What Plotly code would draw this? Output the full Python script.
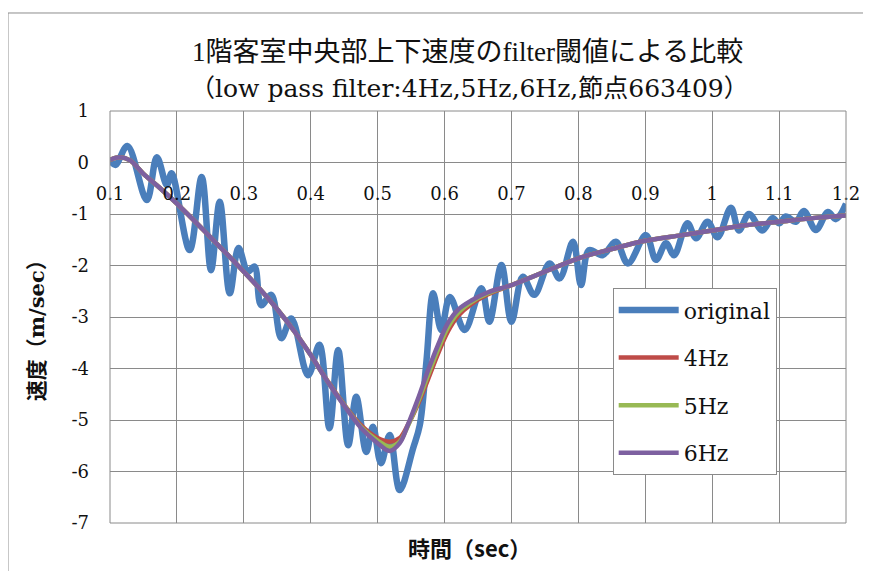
import plotly.graph_objects as go

# 時間 (sec) / 速度 (m/sec)
t_orig = [0.100, 0.108, 0.126, 0.155, 0.170, 0.185, 0.192, 0.219, 0.237, 0.251,
          0.264, 0.279, 0.292, 0.306, 0.316, 0.326, 0.341, 0.356, 0.371, 0.396,
          0.413, 0.428, 0.441, 0.456, 0.468, 0.483, 0.493, 0.505, 0.518, 0.533,
          0.553, 0.563, 0.573, 0.583, 0.595, 0.608, 0.630, 0.655, 0.667, 0.685,
          0.700, 0.717, 0.734, 0.757, 0.772, 0.792, 0.804, 0.816, 0.836, 0.856,
          0.874, 0.901, 0.916, 0.931, 0.943, 0.963, 0.976, 0.993, 1.008, 1.028,
          1.040, 1.055, 1.075, 1.090, 1.100, 1.110, 1.125, 1.137, 1.155, 1.173,
          1.185, 1.200]
v_orig = [0.05, -0.05, 0.32, -0.73, 0.10, -0.44, -0.21, -1.70, -0.28, -2.09,
          -0.76, -2.54, -1.66, -2.12, -2.02, -2.77, -2.57, -3.41, -3.03, -4.13,
          -3.54, -5.16, -3.64, -5.49, -4.55, -5.62, -5.13, -5.84, -5.29, -6.36,
          -5.55, -5.10, -3.85, -2.54, -3.25, -2.61, -3.25, -2.44, -3.09, -1.99,
          -3.09, -2.22, -2.57, -1.96, -2.25, -1.54, -2.38, -1.70, -1.80, -1.54,
          -1.96, -1.41, -1.89, -1.57, -1.80, -1.18, -1.47, -1.15, -1.45, -0.88,
          -1.32, -1.00, -1.32, -1.08, -1.18, -1.05, -1.15, -0.94, -1.31, -0.96,
          -1.10, -0.80]

t_filt = [0.100, 0.115, 0.130, 0.150, 0.175, 0.200, 0.225, 0.250, 0.275, 0.300,
          0.325, 0.350, 0.375, 0.400, 0.425, 0.450, 0.475, 0.500, 0.518, 0.533,
          0.545, 0.560, 0.575, 0.590, 0.605, 0.620, 0.640, 0.665, 0.700, 0.750,
          0.800, 0.850, 0.900, 0.950, 1.000, 1.050, 1.100, 1.150, 1.200]
v_4hz = [0.05, 0.10, 0.04, -0.22, -0.50, -0.80, -1.12, -1.45, -1.78, -2.12,
         -2.47, -2.85, -3.27, -3.74, -4.24, -4.70, -5.10, -5.35, -5.42, -5.35,
         -5.10, -4.70, -4.22, -3.72, -3.28, -2.98, -2.75, -2.56, -2.38, -2.12,
         -1.86, -1.68, -1.52, -1.42, -1.32, -1.22, -1.15, -1.08, -1.03]
v_5hz = [0.05, 0.10, 0.04, -0.22, -0.50, -0.80, -1.12, -1.45, -1.78, -2.12,
         -2.47, -2.85, -3.27, -3.74, -4.25, -4.71, -5.13, -5.40, -5.52, -5.42,
         -5.12, -4.66, -4.14, -3.64, -3.20, -2.92, -2.71, -2.54, -2.38, -2.12,
         -1.86, -1.68, -1.52, -1.42, -1.32, -1.22, -1.15, -1.08, -1.03]
v_6hz = [0.05, 0.10, 0.04, -0.22, -0.50, -0.80, -1.12, -1.45, -1.78, -2.12,
         -2.47, -2.85, -3.27, -3.74, -4.25, -4.72, -5.15, -5.45, -5.60, -5.45,
         -5.10, -4.60, -4.05, -3.55, -3.12, -2.86, -2.68, -2.52, -2.38, -2.12,
         -1.86, -1.68, -1.52, -1.42, -1.32, -1.22, -1.15, -1.08, -1.03]

x_ticks = [0.1, 0.2, 0.3, 0.4, 0.5, 0.6, 0.7, 0.8, 0.9, 1.0, 1.1, 1.2]
x_tick_text = ["0.1", "0.2", "0.3", "0.4", "0.5", "0.6", "0.7", "0.8", "0.9", "1", "1.1", "1.2"]
y_ticks = [-7, -6, -5, -4, -3, -2, -1, 0, 1]
y_tick_text = ["-7", "-6", "-5", "-4", "-3", "-2", "-1", "0", "1"]

series = [("original", t_orig, v_orig, "#4A7EBB", 6.5),
          ("4Hz", t_filt, v_4hz, "#BE4B48", 4.5),
          ("5Hz", t_filt, v_5hz, "#98B954", 4.5),
          ("6Hz", t_filt, v_6hz, "#7D60A0", 4.5)]

serif = "Liberation Serif, Noto Sans CJK JP, serif"
dserif = "DejaVu Serif, Noto Sans CJK JP, serif"

fig = go.Figure()
for name, t, v, col, w in series:
    fig.add_trace(go.Scatter(x=t, y=v, name=name, mode="lines", legendgroup=name,
                             line=dict(color=col, width=w, shape="spline")))

grid = "#8a8a8a"
# page body has an 8px margin, so the figure is 8px smaller than the window
fig.update_layout(
    width=863, height=563,
    margin=dict(l=102, r=25, t=103, b=48),
    paper_bgcolor="white", plot_bgcolor="white",
    font=dict(family=dserif, color="#111111"),
    xaxis=dict(range=[0.1, 1.2], tickvals=x_ticks, ticktext=x_tick_text,
               showgrid=True, gridcolor=grid, gridwidth=1, zeroline=False,
               showline=False, anchor="free", position=0.875, automargin=False,
               tickfont=dict(size=18, family=dserif), ticklabelstandoff=18),
    yaxis=dict(range=[-7, 1], tickvals=y_ticks, ticktext=y_tick_text,
               showgrid=True, gridcolor=grid, gridwidth=1, zeroline=False,
               showline=False, automargin=False,
               tickfont=dict(size=18, family=dserif), ticklabelstandoff=20),
    legend=dict(x=0.683, y=0.570, xanchor="left", yanchor="top",
                bgcolor="white", bordercolor=grid, borderwidth=1,
                font=dict(size=22, family=dserif), traceorder="grouped",
                tracegroupgap=16, itemwidth=60, entrywidth=120),
    shapes=[dict(type="rect", xref="paper", yref="paper", x0=0, x1=1, y0=0, y1=1,
                 line=dict(color=grid, width=1)),
            dict(type="rect", xref="paper", yref="paper", x0=-0.1386, x1=1.0272,
                 y0=-0.14, y1=1.2379, line=dict(color="#8c8c8c", width=1))],
    annotations=[
        dict(text="1階客室中央部上下速度のfilter閾値による比較", x=0.4864, y=1.1432,
             xref="paper", yref="paper", showarrow=False, yanchor="middle",
             font=dict(size=27, family=serif)),
        dict(text="（low pass filter:4Hz,5Hz,6Hz,節点663409）", x=0.4878, y=1.0558,
             xref="paper", yref="paper", showarrow=False, yanchor="middle",
             font=dict(size=25, family=dserif)),
        dict(text="<b>時間（sec）</b>", x=0.489, y=-0.0583, xref="paper", yref="paper",
             showarrow=False, yanchor="middle",
             font=dict(size=22, family="Noto Sans CJK JP, sans-serif")),
        dict(text="<b>速度（m/sec）</b>", x=-0.099, y=0.4806, xref="paper", yref="paper",
             showarrow=False, textangle=-90, xanchor="center", yanchor="middle",
             font=dict(size=21, family=dserif)),
    ],
)

fig.write_html("out.html")
